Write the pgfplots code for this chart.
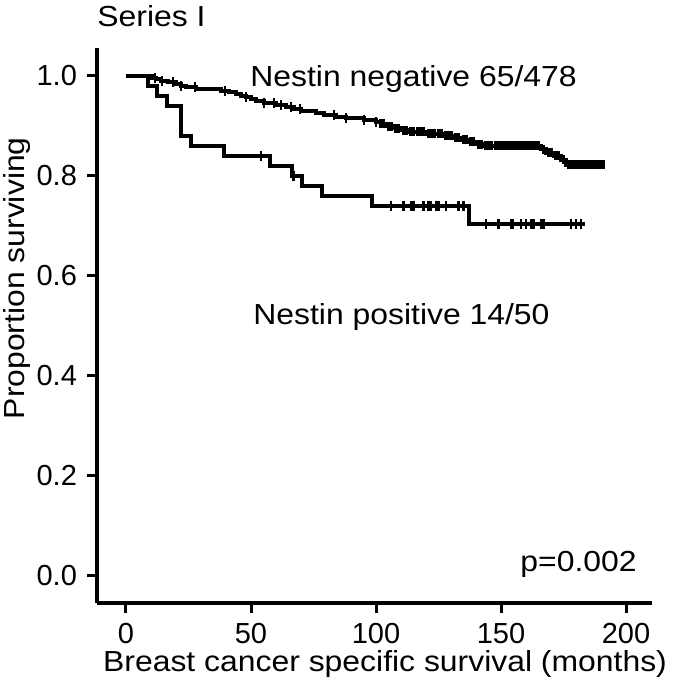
\documentclass[border=0pt]{standalone}
\usepackage{pgfplots}
\pgfplotsset{compat=1.18}
\usepackage{fontspec}
\setmainfont{Liberation Sans}
\newfontfamily\wide{Liberation Sans}[FakeStretch=1.1]

\begin{document}
\fontsize{14.5}{17}\selectfont
\begin{tikzpicture}
\useasboundingbox (-48.5pt,-41pt) rectangle (289pt,301.5pt);
\begin{axis}[
    at={(0,0)}, anchor=south west,
    scale only axis,
    width=277.5pt, height=277.5pt,
    xmin=-11.6, xmax=210.4,
    ymin=-0.056, ymax=1.056,
    axis x line=bottom, axis y line=left,
    axis line style={-, line width=2pt, black},
    tick align=outside,
    major tick length=5pt,
    tick style={line width=1.5pt, black},
    xtick={0,50,100,150,200},
    ytick={0,0.2,0.4,0.6,0.8,1.0},
    yticklabel style={/pgf/number format/.cd, fixed, fixed zerofill, precision=1},
    /pgf/number format/assume math mode=true,
    xlabel={\wide Breast cancer specific survival (months)},
    ylabel={\wide Proportion surviving},
    xlabel style={at={(axis description cs:0.519,-0.124)}, anchor=base},
    ylabel style={at={(axis description cs:-0.130,0.585)}, anchor=base},
    clip=false,
]
% Nestin negative
\addplot[const plot, black, line width=2pt] coordinates {
(0,1.000) (10.3,0.996) (12,0.993) (14,0.990) (17,0.987) (20,0.983) (22,0.980)
(24,0.977) (28,0.973) (38,0.970) (41,0.967) (44,0.964) (46,0.960) (48,0.957)
(50,0.953) (52,0.950) (55,0.946) (60,0.942) (64,0.938) (67,0.934) (70,0.930)
(76,0.926) (79,0.922) (84,0.918) (88,0.915) (95,0.912) (100,0.908) (102,0.904)
(104,0.899) (107,0.895) (110,0.891) (113,0.888) (120,0.884) (127,0.880)
(131,0.876) (134,0.872) (137,0.868) (140,0.863) (143,0.860) (166,0.853)
(168,0.846) (171,0.840) (174,0.832) (176,0.822) (191,0.822)
};
\addplot[only marks, mark=|, mark size=2.5pt, black, mark options={line width=1pt}] coordinates {
(11.6,0.996) (14.3,0.990) (19,0.987) (22,0.980) (27.6,0.977) (39.6,0.970)
(48,0.957) (55,0.946) (59,0.946) (62,0.942) (66,0.938) (69.6,0.934)
(83,0.922) (88,0.915) (95,0.912) (100,0.908)
};
\addplot[only marks, mark=|, mark size=2.3pt, black, mark options={line width=1.6pt}] coordinates {
(102,0.904) (103,0.904)
(105,0.899) (106,0.899) (108,0.895) (109,0.895) (111,0.891) (112,0.891)
(114,0.888) (115,0.888) (116.5,0.888) (118,0.888) (119,0.888) (121,0.884)
(122,0.884) (123.5,0.884) (125,0.884) (126,0.884) (128,0.880) (129,0.880)
(130,0.880) (132,0.876) (133,0.876) (135,0.872) (136,0.872) (138,0.868)
(139,0.868) (141,0.863) (142,0.863) (144,0.860) (145,0.860) (146,0.860)
(148,0.860) (149,0.860) (150,0.860) (151,0.860) (152,0.860) (153,0.860)
(154,0.860) (155,0.860) (156,0.860) (157,0.860) (158,0.860) (159,0.860)
(160,0.860) (161,0.860) (162,0.860) (163,0.860) (164,0.860) (165,0.860)
(167,0.853) (169,0.846) (170,0.846) (172,0.840) (173,0.840) (175,0.832)
(177,0.822) (178,0.822) (179,0.822) (180,0.822) (181,0.822) (182,0.822)
(183,0.822) (184,0.822) (185,0.822) (186,0.822) (187,0.822) (188,0.822)
(189,0.822) (190,0.822) (191,0.822)
};
% Nestin positive
\addplot[const plot, black, line width=2pt] coordinates {
(0,1.00) (8.9,0.98) (12.3,0.96) (16.3,0.94) (22,0.88) (25.9,0.86) (39,0.84)
(57.6,0.82) (66.3,0.80) (70.3,0.78) (78.3,0.76) (98.3,0.74) (137,0.703)
(183.6,0.703)
};
\addplot[only marks, mark=|, mark size=2.5pt, black, mark options={line width=1.2pt}] coordinates {
(54,0.84) (67,0.80) (106,0.74) (111,0.74) (114,0.74) (115,0.74) (119,0.74)
(121,0.74) (122,0.74) (124,0.74) (125,0.74) (128,0.74) (133,0.74) (135,0.74)
(144,0.703) (149,0.703) (154,0.703) (154.7,0.703) (158,0.703) (160,0.703)
(162,0.703) (163,0.703) (166,0.703) (167,0.703) (178,0.703) (180,0.703)
(182,0.703)
};
\node[anchor=base west, inner sep=0pt, font=\wide] at (axis cs:49.6,0.978) {Nestin negative 65/478};
\node[anchor=base west, inner sep=0pt, font=\wide] at (axis cs:50.8,0.501) {Nestin positive 14/50};
\node[anchor=base west, inner sep=0pt, font=\wide] at (axis cs:157.6,0.0066) {p=0.002};
\node[anchor=base west, inner sep=0pt, font=\wide] at (axis cs:-11.6,1.099) {Series I};
\end{axis}
\end{tikzpicture}
\end{document}
